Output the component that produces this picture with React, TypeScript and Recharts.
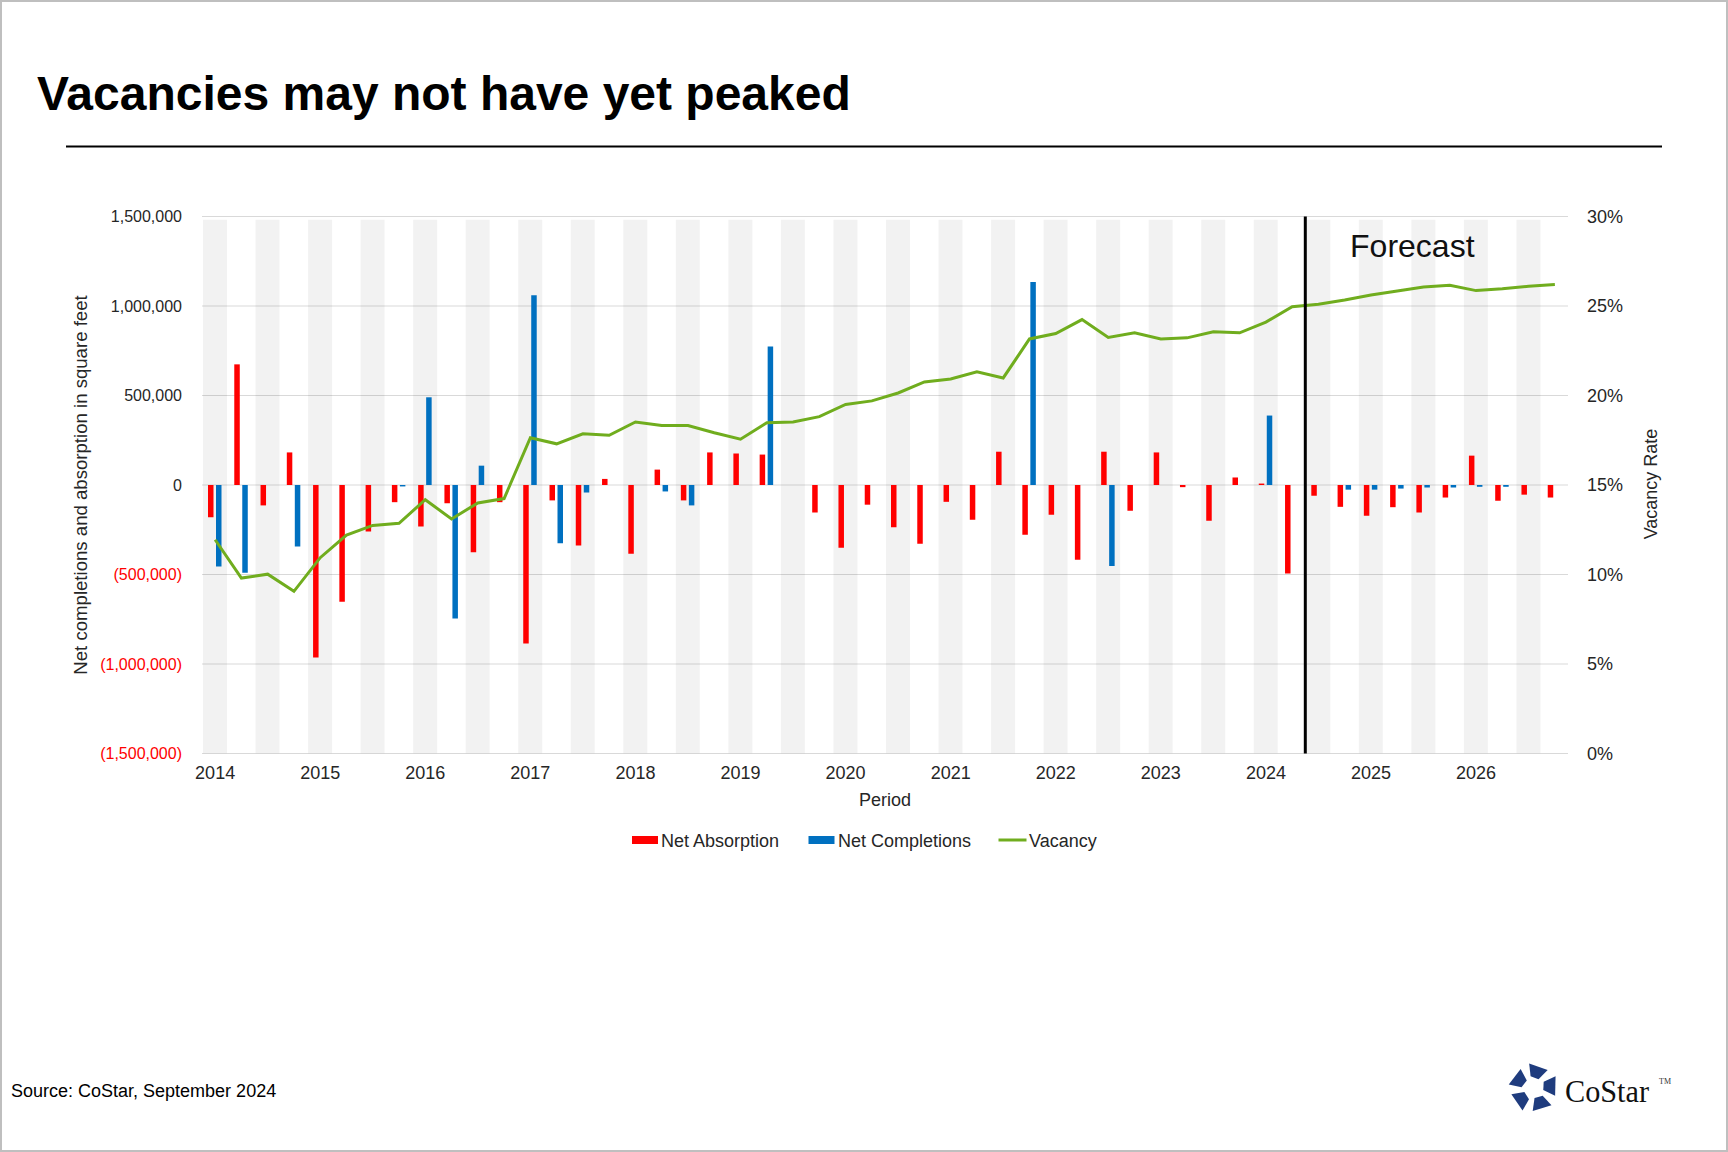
import React from 'react';
import {
  ComposedChart,
  Bar,
  Line,
  XAxis,
  YAxis,
  CartesianGrid,
  ReferenceLine,
} from 'recharts';

// ---------- data ----------
const YEARS = ['2014', '2015', '2016', '2017', '2018', '2019', '2020', '2021', '2022', '2023', '2024', '2025', '2026'];
const QUARTERS = ['Q1', 'Q2', 'Q3', 'Q4'];
const SHADED_QUARTERS = ['Q1', 'Q3'];
const PERIODS = YEARS.flatMap((y) => QUARTERS.map((q) => `${y} ${q}`));

const NET_ABSORPTION = [
  -180000, 674000, -114000, 182000,
  -964000, -652000, -260000, -96000,
  -232000, -102000, -376000, -96000,
  -886000, -86000, -338000, 34000,
  -384000, 86000, -86000, 182000,
  176000, 170000, null, -154000,
  -350000, -110000, -236000, -328000,
  -94000, -194000, 186000, -278000,
  -166000, -418000, 186000, -144000,
  182000, -12000, -200000, 42000,
  8000, -494000, -60000, -122000,
  -172000, -124000, -154000, -70000,
  164000, -88000, -54000, -70000,
];

const NET_COMPLETIONS = [
  -456000, -490000, null, -344000,
  null, null, null, -8000,
  490000, -746000, 108000, null,
  1060000, -326000, -42000, null,
  null, -36000, -114000, null,
  null, 774000, null, null,
  null, null, null, null,
  null, null, null, 1134000,
  null, null, -452000, null,
  null, null, null, null,
  388000, null, null, -26000,
  -26000, -20000, -14000, -14000,
  -10000, -10000, null, null,
];

const VACANCY = [
  11.94, 9.8, 10.02, 9.06,
  10.94, 12.2, 12.74, 12.86,
  14.18, 13.1, 14.0, 14.24,
  17.64, 17.3, 17.86, 17.78,
  18.52, 18.32, 18.32, 17.92,
  17.56, 18.48, 18.52, 18.82,
  19.5, 19.7, 20.14, 20.76,
  20.92, 21.32, 20.98, 23.16,
  23.46, 24.24, 23.24, 23.5,
  23.16, 23.22, 23.56, 23.5,
  24.1, 24.96, 25.1, 25.34,
  25.62, 25.84, 26.06, 26.16,
  25.86, 25.96, 26.1, 26.2,
];

const LEFT_TICKS = [-1500000, -1000000, -500000, 0, 500000, 1000000, 1500000];
const RIGHT_TICKS = [0, 5, 10, 15, 20, 25, 30];
const FORECAST_START = '2024 Q3';

const data = PERIODS.map((p, i) => ({
  period: p,
  absorption: NET_ABSORPTION[i],
  completions: NET_COMPLETIONS[i],
  vacancy: VACANCY[i],
  band: SHADED_QUARTERS.includes(p.slice(5)) ? 1 : null,
}));

// ---------- styles ----------
const FONT = '"Liberation Sans", Arial, Helvetica, sans-serif';
const RED = '#ff0000';
const BLUE = '#0070c0';
const GREEN = '#70ad1e';
const TEXT = '#262626';

const W = 1728;
const H = 1152;

const fmtLeft = (v: number) =>
  v < 0 ? `(${Math.abs(v).toLocaleString('en-US')})` : v.toLocaleString('en-US');

const LeftTick = (props: any) => {
  const { x, y, payload } = props;
  const v = payload.value as number;
  return (
    <text x={x} y={y} dy="0.355em" textAnchor="end" fontFamily={FONT} fontSize={16} fill={v < 0 ? RED : TEXT}>
      {fmtLeft(v)}
    </text>
  );
};

const RightTick = (props: any) => {
  const { x, y, payload } = props;
  return (
    <text x={x} y={y} dy="0.355em" textAnchor="start" fontFamily={FONT} fontSize={18} fill={TEXT}>
      {`${payload.value}%`}
    </text>
  );
};

const XTick = (props: any) => {
  const { x, y, payload } = props;
  const v = String(payload.value);
  if (!v.endsWith('Q1')) return null;
  return (
    <text x={x} y={y} dy="0.71em" textAnchor="middle" fontFamily={FONT} fontSize={18} fill={TEXT}>
      {v.slice(0, 4)}
    </text>
  );
};

const ForecastLabel = (props: any) => {
  const vb = props.viewBox || {};
  return (
    <text x={(vb.x || 0) + 107} y={(vb.y || 0) + 40} textAnchor="middle" fontFamily={FONT} fontSize={32} fill="#111">
      Forecast
    </text>
  );
};

// CoStar logo pieces (decorative)
const logoPieces = () => {
  const cx = 1533.5;
  const cy = 1088;
  const pol = (r: number, deg: number) => {
    const a = (deg * Math.PI) / 180;
    return `${(cx + r * Math.cos(a)).toFixed(2)},${(cy + r * Math.sin(a)).toFixed(2)}`;
  };
  const out: string[] = [];
  for (let k = 0; k < 5; k++) {
    const t = -100 + 72 * k;
    out.push([pol(25, t), pol(23, t + 48), pol(10, t + 40), pol(12, t - 4)].join(' '));
  }
  return out;
};

export default function App() {
  return (
    <div
      style={{
        position: 'absolute',
        left: 0,
        top: 0,
        width: W,
        height: H,
        background: '#fff',
        overflow: 'hidden',
      }}
    >
      <ComposedChart
        width={W}
        height={H}
        data={data}
        margin={{ top: 216.5, right: 60, bottom: 368.5, left: 102 }}
        barGap={2.5}
      >
        <CartesianGrid horizontal vertical={false} stroke="#d9d9d9" yAxisId="left" />
        <XAxis
          dataKey="period"
          interval={0}
          tick={<XTick />}
          tickLine={false}
          axisLine={false}
          tickSize={0}
          tickMargin={13}
          height={30}
        />
        <XAxis xAxisId="band" dataKey="period" hide height={0} />
        <YAxis
          yAxisId="left"
          domain={[-1500000, 1500000]}
          ticks={LEFT_TICKS}
          tick={<LeftTick />}
          tickLine={false}
          axisLine={false}
          tickSize={0}
          tickMargin={20}
          width={100}
          allowDataOverflow
        />
        <YAxis
          yAxisId="right"
          orientation="right"
          domain={[0, 30]}
          ticks={RIGHT_TICKS}
          tick={<RightTick />}
          tickLine={false}
          axisLine={false}
          tickSize={0}
          tickMargin={19}
          width={100}
          allowDataOverflow
        />
        <YAxis yAxisId="band" domain={[0, 1.006]} hide width={0} allowDataOverflow />
        <Bar
          xAxisId="band"
          yAxisId="band"
          dataKey="band"
          fill="#000"
          fillOpacity={0.052}
          barSize={24}
          isAnimationActive={false}
          legendType="none"
        />
        <Bar yAxisId="left" dataKey="absorption" name="Net Absorption" fill={RED} barSize={5.5} isAnimationActive={false} />
        <Bar yAxisId="left" dataKey="completions" name="Net Completions" fill={BLUE} barSize={5.5} isAnimationActive={false} />
        <Line
          yAxisId="right"
          type="linear"
          dataKey="vacancy"
          name="Vacancy"
          stroke={GREEN}
          strokeWidth={3}
          dot={false}
          activeDot={false}
          isAnimationActive={false}
        />
        <ReferenceLine
          yAxisId="left"
          x={FORECAST_START}
          position="start"
          stroke="#000"
          strokeWidth={3}
          label={ForecastLabel}
        />
      </ComposedChart>

      <svg
        width={W}
        height={H}
        style={{ position: 'absolute', left: 0, top: 0, pointerEvents: 'none' }}
      >
        <rect x={1} y={1} width={W - 2} height={H - 2} fill="none" stroke="#bfbfbf" strokeWidth={2} />
        <text x={37} y={110} fontFamily={FONT} fontWeight="bold" fontSize={48} fill="#000">
          Vacancies may not have yet peaked
        </text>
        <line x1={66} y1={146.5} x2={1662} y2={146.5} stroke="#000" strokeWidth={2} />

        <text
          transform="translate(80,485) rotate(-90)"
          textAnchor="middle"
          dy="0.355em"
          fontFamily={FONT}
          fontSize={18.6}
          fill={TEXT}
        >
          Net completions and absorption in square feet
        </text>
        <text
          transform="translate(1651,484) rotate(-90)"
          textAnchor="middle"
          dy="0.355em"
          fontFamily={FONT}
          fontSize={18}
          fill={TEXT}
        >
          Vacancy Rate
        </text>
        <text x={885} y={806} textAnchor="middle" fontFamily={FONT} fontSize={18} fill={TEXT}>
          Period
        </text>

        {/* legend */}
        <rect x={632} y={836} width={26} height={8} fill={RED} />
        <text x={661} y={846.5} fontFamily={FONT} fontSize={18} fill={TEXT}>Net Absorption</text>
        <rect x={808.5} y={836} width={26} height={8} fill={BLUE} />
        <text x={838} y={846.5} fontFamily={FONT} fontSize={18} fill={TEXT}>Net Completions</text>
        <line x1={998.5} y1={840} x2={1026.5} y2={840} stroke={GREEN} strokeWidth={3} />
        <text x={1029} y={846.5} fontFamily={FONT} fontSize={18} fill={TEXT}>Vacancy</text>

        <text x={11} y={1097} fontFamily={FONT} fontSize={18} fill="#000">
          Source: CoStar, September 2024
        </text>

        {/* CoStar logo */}
        {logoPieces().map((pts, i) => (
          <polygon key={i} points={pts} fill="#1f3c7e" />
        ))}
        <text
          x={1565}
          y={1102}
          fontFamily='"Liberation Serif", "DejaVu Serif", serif'
          fontSize={32}
          textLength={84}
          lengthAdjust="spacingAndGlyphs"
          fill="#111"
        >
          CoStar
        </text>
        <text x={1659} y={1084} fontFamily='"Liberation Serif", serif' fontSize={8} fill="#333">
          TM
        </text>
      </svg>
    </div>
  );
}
